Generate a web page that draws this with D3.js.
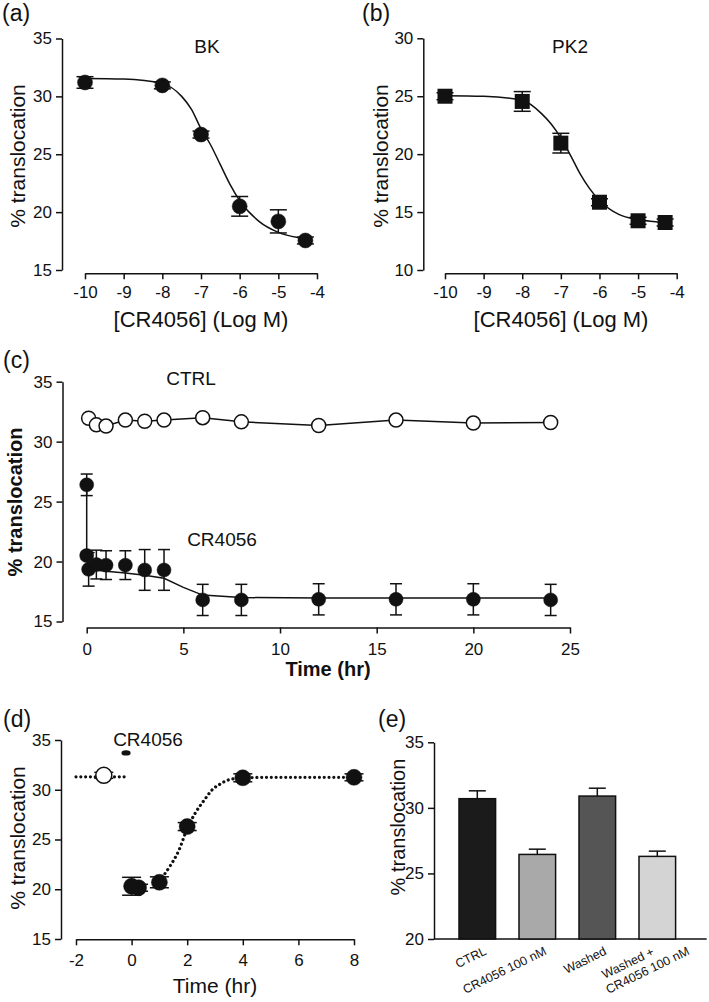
<!DOCTYPE html>
<html><head><meta charset="utf-8">
<script src="https://cdn.jsdelivr.net/npm/d3@7"></script>
<style>body{margin:0;background:#fff}</style>
</head><body><svg id="c" width="709" height="1002"></svg>
<script>
// ---------------- DATA ----------------
// Panel (a) BK
const aLogConc = [-10, -8, -7, -6, -5, -4.3];
const aMean    = [31.2, 30.95, 26.7, 20.5, 19.2, 17.55];
const aSem     = [0.5, 0.3, 0.3, 0.85, 1.0, 0.3];
const aFitLog  = [-10, -9, -8, -7.5, -7.25, -7, -6.75, -6.5, -6.25, -6, -5.5, -5, -4.5, -4.3];
const aFitVal  = [31.55, 31.5, 31.1, 30.0, 28.9, 27.2, 25.8, 24.1, 22.4, 21.0, 19.2, 18.25, 17.8, 17.7];
const aXTicks  = [-10, -9, -8, -7, -6, -5, -4];
const aYTicks  = [15, 20, 25, 30, 35];
// Panel (b) PK2
const bLogConc = [-10, -8, -7, -6, -5, -4.3];
const bMean    = [25.0, 24.55, 20.95, 15.85, 14.25, 14.1];
const bSem     = [0.3, 0.85, 0.85, 0.3, 0.3, 0.3];
const bFitLog  = [-10, -9, -8, -7.5, -7.25, -7, -6.75, -6.5, -6.25, -6, -5.5, -5, -4.5, -4.3];
const bFitVal  = [25.05, 25.0, 24.65, 23.5, 22.6, 21.4, 19.9, 18.3, 17.0, 16.0, 14.8, 14.35, 14.15, 14.1];
const bXTicks  = [-10, -9, -8, -7, -6, -5, -4];
const bYTicks  = [10, 15, 20, 25, 30];
// Panel (c) time course
const cCtrlTime = [0.1, 0.5, 1, 2, 3, 4, 6, 8, 12, 16, 20, 24];
const cCtrlVal  = [31.95, 31.4, 31.3, 31.8, 31.7, 31.8, 32.0, 31.65, 31.35, 31.8, 31.55, 31.6];
const cDrugTime = [0, 0, 0.1, 0.5, 1, 2, 3, 4, 6, 8, 12, 16, 20, 24];
const cDrugVal  = [26.4, 20.5, 19.35, 19.75, 19.7, 19.7, 19.3, 19.3, 16.8, 16.8, 16.85, 16.85, 16.85, 16.8];
const cDrugSem  = [0.9, 0.3, 1.4, 1.2, 1.2, 1.2, 1.7, 1.7, 1.3, 1.3, 1.3, 1.3, 1.3, 1.3];
const cFitTime  = [0, 0, 0.1, 1, 2, 3, 4, 5, 6, 8, 12, 16, 20, 24];
const cFitVal   = [26.4, 20.5, 19.35, 19.2, 19.05, 18.85, 18.6, 17.85, 17.2, 17.0, 16.95, 16.95, 16.95, 16.95];
const cXTicks   = [0, 5, 10, 15, 20, 25];
const cYTicks   = [15, 20, 25, 30, 35];
// Panel (d) washout
const dCtrlTime = [-1];
const dCtrlVal  = [31.45];
const dCtrlSem  = [0.3];
const dBaseTime = [-2, -0.2];
const dBaseVal  = [31.3, 31.3];
const dDrugTime = [-0.2];
const dDrugVal  = [33.7];
const dTime     = [0, 0.25, 1, 2, 4, 8];
const dVal      = [20.3, 20.15, 20.7, 26.3, 31.2, 31.25];
const dSem      = [0.9, 0.35, 0.55, 0.4, 0.4, 0.35];
const dFitTime  = [1.1, 1.4, 1.7, 2, 2.3, 2.6, 2.9, 3.2, 3.5, 4, 5, 8];
const dFitVal   = [21.2, 22.4, 23.9, 26.1, 27.7, 28.9, 30.0, 30.6, 31.0, 31.2, 31.25, 31.25];
const dXTicks   = [-2, 0, 2, 4, 6, 8];
const dYTicks   = [15, 20, 25, 30, 35];
// Panel (e) bars
const eCats  = ["CTRL", "CR4056 100 nM", "Washed", "Washed +|CR4056 100 nM"];
const eVal   = [30.7, 26.45, 30.9, 26.3];
const eSem   = [0.6, 0.4, 0.6, 0.4];
const eYTicks = [20, 25, 30, 35];
const eFills = ["#1b1b1b", "#a9a9a9", "#555555", "#d4d4d4"];

// ---------------- DRAWING ----------------
const FONT = "'Liberation Sans', Arial, Helvetica, sans-serif";
const INK = "#111";
const LW = 1.5;
const svg = d3.select("#c").style("font-family", FONT);
svg.append("rect").attr("width", 709).attr("height", 1002).attr("fill", "#fff");

function axes(x, y, o) {
  const gs = [];
  gs.push(svg.append("g").attr("transform", `translate(${o.ax},0)`)
    .call(d3.axisLeft(y).tickValues(o.yTicks).tickSize(6).tickSizeOuter(0).tickPadding(4).tickFormat(d => String(d))));
  if (o.xTicks) {
    gs.push(svg.append("g").attr("transform", `translate(0,${o.ay})`)
      .call(d3.axisBottom(x).tickValues(o.xTicks).tickSize(6).tickSizeOuter(0).tickPadding(o.xPad || 7).tickFormat(d => String(d))));
  }
  gs.forEach(g => {
    g.attr("font-family", FONT).attr("font-size", o.fs || 17);
    g.select(".domain").attr("stroke", INK).attr("stroke-width", LW);
    g.selectAll(".tick line").attr("stroke", INK).attr("stroke-width", LW);
    g.selectAll(".tick text").attr("fill", INK);
  });
}
function label(x, y, s, o = {}) {
  const t = svg.append("text").attr("x", x).attr("y", y).text(s)
    .attr("font-size", o.fs || 19).attr("fill", INK).attr("text-anchor", o.anchor || "middle")
    .attr("font-weight", o.bold ? "bold" : "normal");
  if (o.rot) t.attr("transform", `rotate(${o.rot},${x},${y})`);
  return t;
}
function errbars(xs, ms, es, x, y, cap, up) {
  const g = svg.append("g").attr("stroke", INK).attr("stroke-width", LW);
  xs.forEach((xv, i) => {
    const cx = x(xv), yt = y(ms[i] + es[i]), yb = up ? y(ms[i]) : y(ms[i] - es[i]);
    g.append("line").attr("x1", cx).attr("x2", cx).attr("y1", yt).attr("y2", yb);
    g.append("line").attr("x1", cx - cap / 2).attr("x2", cx + cap / 2).attr("y1", yt).attr("y2", yt);
    if (!up) g.append("line").attr("x1", cx - cap / 2).attr("x2", cx + cap / 2).attr("y1", yb).attr("y2", yb);
  });
}
function path(xs, vs, x, y, curve, dotted) {
  const pts = xs.map((d, i) => [d, vs[i]]);
  const p = svg.append("path")
    .attr("d", d3.line().x(d => x(d[0])).y(d => y(d[1])).curve(curve || d3.curveLinear)(pts))
    .attr("fill", "none").attr("stroke", INK);
  if (dotted) p.attr("stroke-width", 3.2).attr("stroke-dasharray", "0.01 4.8").attr("stroke-linecap", "round");
  else p.attr("stroke-width", LW);
  return p;
}
function circles(xs, vs, x, y, r, open) {
  svg.append("g").selectAll("circle").data(xs.map((d, i) => [d, vs[i]])).join("circle")
    .attr("cx", d => x(d[0])).attr("cy", d => y(d[1])).attr("r", r)
    .attr("fill", open ? "#fff" : INK).attr("stroke", INK).attr("stroke-width", open ? LW : 0.5);
}

// ----- (a)
const xa = d3.scaleLinear().domain([-10, -4]).range([85, 317]);
const ya = d3.scaleLinear().domain([15, 35]).range([270, 38.5]);
axes(xa, ya, {ax: 62, ay: 273.3, xTicks: aXTicks, yTicks: aYTicks});
path(aFitLog, aFitVal, xa, ya, d3.curveMonotoneX);
errbars(aLogConc, aMean, aSem, xa, ya, 17);
circles(aLogConc, aMean, xa, ya, 7.5);
label(201, 327, "[CR4056] (Log M)", {fs: 22});
label(25, 156, "% translocation", {fs: 21, rot: -90});
label(207, 53, "BK");
label(2, 21, "(a)", {fs: 23, anchor: "start"});

// ----- (b)
const xb = d3.scaleLinear().domain([-10, -4]).range([445, 676.7]);
const yb = d3.scaleLinear().domain([10, 30]).range([270, 38.3]);
axes(xb, yb, {ax: 423.3, ay: 273.3, xTicks: bXTicks, yTicks: bYTicks});
path(bFitLog, bFitVal, xb, yb, d3.curveMonotoneX);
errbars(bLogConc, bMean, bSem, xb, yb, 17);
svg.append("g").selectAll("rect").data(bLogConc.map((d, i) => [d, bMean[i]])).join("rect")
  .attr("x", d => xb(d[0]) - 7.5).attr("y", d => yb(d[1]) - 7.5).attr("width", 15).attr("height", 15).attr("fill", INK);
label(561, 327, "[CR4056] (Log M)", {fs: 22});
label(388, 156, "% translocation", {fs: 21, rot: -90});
label(570, 53, "PK2");
label(362, 21, "(b)", {fs: 23, anchor: "start"});

// ----- (c)
const xc = d3.scaleLinear().domain([0, 25]).range([86.7, 570]);
const yc = d3.scaleLinear().domain([15, 35]).range([621.5, 381.7]);
axes(xc, yc, {ax: 62.5, ay: 627.5, xTicks: cXTicks, yTicks: cYTicks, xPad: 9});
path(cCtrlTime, cCtrlVal, xc, yc);
path(cFitTime, cFitVal, xc, yc);
errbars(cDrugTime, cDrugVal, cDrugSem, xc, yc, 12);
circles(cDrugTime, cDrugVal, xc, yc, 7);
circles(cCtrlTime, cCtrlVal, xc, yc, 7, true);
label(328, 676, "Time (hr)", {fs: 20, bold: true});
label(22, 502, "% translocation", {fs: 20, bold: true, rot: -90});
label(191, 385, "CTRL");
label(222, 546, "CR4056");
label(3, 368, "(c)", {fs: 23, anchor: "start"});

// ----- (d)
const xd = d3.scaleLinear().domain([-2, 8]).range([76, 354]);
const yd = d3.scaleLinear().domain([15, 35]).range([939, 740]);
axes(xd, yd, {ax: 61, ay: 939.3, xTicks: dXTicks, yTicks: dYTicks, xPad: 9});
path(dBaseTime, dBaseVal, xd, yd, null, true);
path(dFitTime, dFitVal, xd, yd, d3.curveMonotoneX, true);
errbars(dTime, dVal, dSem, xd, yd, 19);
errbars(dCtrlTime, dCtrlVal, dCtrlSem, xd, yd, 19);
circles(dTime, dVal, xd, yd, 8);
circles(dCtrlTime, dCtrlVal, xd, yd, 8, true);
svg.append("g").selectAll("ellipse").data(dDrugTime.map((d, i) => [d, dDrugVal[i]])).join("ellipse")
  .attr("cx", d => xd(d[0])).attr("cy", d => yd(d[1])).attr("rx", 4.6).attr("ry", 2.6).attr("fill", INK);
label(215, 993, "Time (hr)", {fs: 21});
label(25, 838, "% translocation", {fs: 21, rot: -90});
label(148, 746, "CR4056");
label(3, 727, "(d)", {fs: 23, anchor: "start"});

// ----- (e)
const xe = d3.scaleBand().domain(eCats).range([447.3, 687.3]).paddingInner(0.39).paddingOuter(0.195);
const ye = d3.scaleLinear().domain([20, 35]).range([939, 742.3]);
axes(null, ye, {ax: 434, yTicks: eYTicks, fs: 17});
svg.append("line").attr("x1", 434).attr("x2", 706.7).attr("y1", ye(20)).attr("y2", ye(20))
  .attr("stroke", INK).attr("stroke-width", LW);
svg.append("g").selectAll("rect").data(eCats.map((c, i) => ({c, v: eVal[i], f: eFills[i]}))).join("rect")
  .attr("x", d => xe(d.c)).attr("y", d => ye(d.v)).attr("width", xe.bandwidth())
  .attr("height", d => ye(20) - ye(d.v)).attr("fill", d => d.f).attr("stroke", INK).attr("stroke-width", LW);
const xeC = c => xe(c) + xe.bandwidth() / 2;
errbars(eCats, eVal, eSem, xeC, ye, 17, true);
eCats.forEach(c => {
  const lines = c.split("|");
  const g = svg.append("g").attr("transform", `translate(${xeC(c) + (lines.length > 1 ? 33 : 10)},954) rotate(-26)`)
    .attr("font-size", 12.5).attr("fill", INK);
  const last = g.append("text").attr("text-anchor", "end").text(lines[lines.length - 1]);
  if (lines.length > 1) {
    const L = last.node().getComputedTextLength();
    g.append("text").attr("text-anchor", "start").attr("x", -L + 3).attr("y", -15).text(lines[0]);
  }
});
label(405, 827, "% translocation", {fs: 20, rot: -90});
label(378, 727, "(e)", {fs: 23, anchor: "start"});
</script></body></html>
